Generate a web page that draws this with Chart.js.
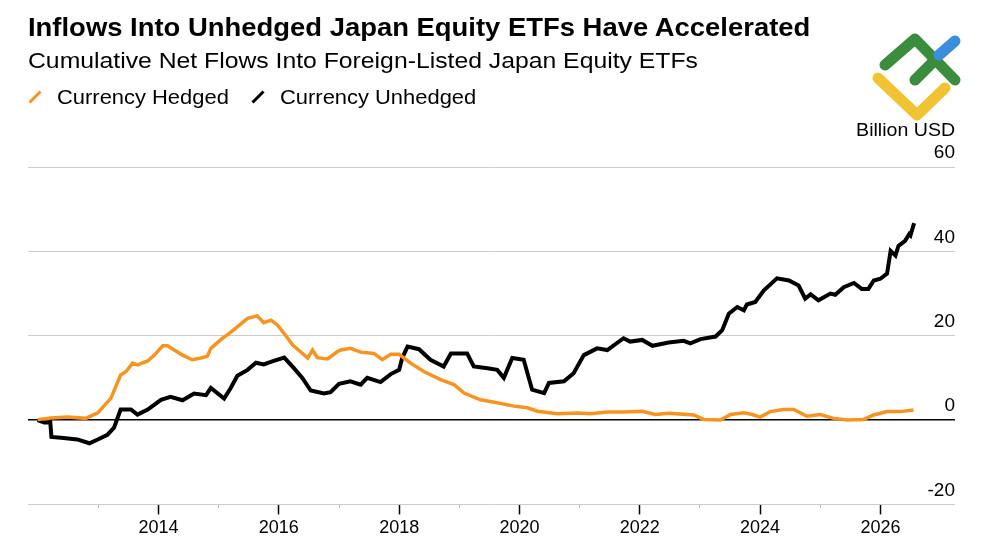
<!DOCTYPE html>
<html>
<head>
<meta charset="utf-8">
<script src="https://cdn.jsdelivr.net/npm/chart.js@4.4.1/dist/chart.umd.min.js"></script>
<style>
    body { margin: 0; background: #fff; font-family: "Liberation Sans", Arial, sans-serif; }
    #wrap { position: relative; width: 1000px; height: 545px; overflow: hidden; }
    #wrap canvas { position: absolute; left: 0; top: 0; }
    .txt { position: absolute; white-space: nowrap; line-height: 1; color: #000; transform-origin: left center; }
    #titulo { left: 28px; top: 15px; font-size: 25px; font-weight: bold; transform: scaleX(1.097); }
    #subtitulo { left: 28px; top: 50px; font-size: 22px; transform: scaleX(1.125); }
    #legenda { left: 28px; top: 86px; font-size: 21px; display: flex; align-items: center; }
    #legenda .item { display: flex; align-items: center; margin-right: 29px; }
    #legenda .item span { display: inline-block; transform: scaleX(1.044); transform-origin: left center; }
    #legenda svg { margin-right: 15px; margin-top: 1px; }
    #unidade { right: 45px; top: 120px; font-size: 19px; transform-origin: right center; transform: scaleX(1.03); }
    #logo { position: absolute; left: 0; top: 0; }
</style>
</head>
<body>
<div id="wrap">
    <canvas id="grafico"></canvas>
    <div class="txt" id="titulo">Inflows Into Unhedged Japan Equity ETFs Have Accelerated</div>
    <div class="txt" id="subtitulo">Cumulative Net Flows Into Foreign-Listed Japan Equity ETFs</div>
    <div class="txt" id="legenda"></div>
    <div class="txt" id="unidade">Billion USD</div>
    <svg id="logo" width="1000" height="140">
        <g fill="none" stroke-linecap="round" stroke-linejoin="round" stroke-width="11">
            <polyline points="878,78 917,115 945,88" stroke="#f1c232"/>
            <polyline points="885,65 915,39 955,80" stroke="#3a8d3c"/>
            <line x1="915" y1="80" x2="935" y2="60" stroke="#3a8d3c"/>
            <line x1="939" y1="55" x2="955" y2="41" stroke="#3b8edc"/>
        </g>
    </svg>
</div>
<script>
// ==========================
// DADOS
// ==========================
const anosHedged = [
    2011.99, 2012.21, 2012.49, 2012.79, 2012.99, 2013.21, 2013.37, 2013.46, 2013.57, 2013.65,
    2013.82, 2013.93, 2014.07, 2014.15, 2014.26, 2014.40, 2014.56, 2014.70, 2014.81, 2014.87,
    2015.03, 2015.17, 2015.31, 2015.48, 2015.64, 2015.75, 2015.87, 2015.98, 2016.11, 2016.23,
    2016.36, 2016.48, 2016.56, 2016.64, 2016.81, 2016.97, 2017.03, 2017.19, 2017.36, 2017.58,
    2017.72, 2017.86, 2018.00, 2018.19, 2018.41, 2018.69, 2018.91, 2019.08, 2019.35, 2019.63,
    2019.91, 2020.13, 2020.30, 2020.63, 2020.96, 2021.18, 2021.46, 2021.73, 2022.04, 2022.26,
    2022.48, 2022.90, 2023.06, 2023.34, 2023.51, 2023.73, 2023.87, 2024.00, 2024.17, 2024.39,
    2024.56, 2024.78, 2025.00, 2025.22, 2025.45, 2025.72, 2025.89, 2026.11, 2026.33, 2026.55
];
const valoresHedged = [
    0.1, 0.5, 0.7, 0.4, 1.7, 5.2, 10.7, 11.5, 13.5, 13.1,
    14.0, 15.4, 17.6, 17.6, 16.6, 15.4, 14.3, 14.7, 15.1, 17.0,
    19.0, 20.5, 22.1, 24.1, 24.7, 23.1, 23.7, 22.5, 20.1, 17.8,
    16.2, 14.7, 16.6, 14.8, 14.5, 16.2, 16.6, 17.0, 16.1, 15.8,
    14.3, 15.6, 15.6, 13.5, 11.5, 9.6, 8.4, 6.4, 4.8, 4.1,
    3.3, 2.9, 2.1, 1.5, 1.7, 1.5, 1.9, 1.9, 2.1, 1.3,
    1.6, 1.2, 0.15, 0.0, 1.3, 1.7, 1.3, 0.7, 2.0, 2.5,
    2.5, 0.9, 1.3, 0.4, 0.0, 0.15, 1.2, 2.0, 2.0, 2.4
];

const anosUnhedged = [
    2011.99, 2012.10, 2012.20, 2012.22, 2012.38, 2012.65, 2012.85, 2012.99, 2013.15, 2013.26,
    2013.37, 2013.54, 2013.65, 2013.82, 2014.04, 2014.20, 2014.40, 2014.59, 2014.79, 2014.87,
    2015.09, 2015.20, 2015.31, 2015.48, 2015.62, 2015.75, 2015.89, 2016.09, 2016.25, 2016.39,
    2016.53, 2016.75, 2016.86, 2017.00, 2017.19, 2017.36, 2017.47, 2017.69, 2017.86, 2018.00,
    2018.05, 2018.14, 2018.33, 2018.52, 2018.74, 2018.86, 2019.13, 2019.24, 2019.47, 2019.63,
    2019.74, 2019.88, 2020.07, 2020.21, 2020.41, 2020.49, 2020.74, 2020.90, 2021.07, 2021.29,
    2021.46, 2021.73, 2021.84, 2022.04, 2022.21, 2022.48, 2022.73, 2022.84, 2023.01, 2023.26,
    2023.37, 2023.48, 2023.62, 2023.73, 2023.78, 2023.92, 2024.06, 2024.28, 2024.48, 2024.64,
    2024.75, 2024.84, 2024.97, 2025.17, 2025.25, 2025.39, 2025.56, 2025.69, 2025.80, 2025.89,
    2026.00, 2026.11, 2026.17, 2026.25, 2026.30, 2026.41, 2026.48, 2026.50, 2026.56
];
const valoresUnhedged = [
    0.0, -0.6, -0.5, -4.0, -4.2, -4.6, -5.5, -4.6, -3.5, -1.8,
    2.5, 2.5, 1.3, 2.5, 4.8, 5.5, 4.7, 6.3, 5.9, 7.6,
    5.1, 7.6, 10.5, 11.9, 13.6, 13.2, 13.9, 14.8, 12.3, 10.0,
    7.0, 6.3, 6.6, 8.6, 9.2, 8.4, 10.0, 9.0, 10.9, 11.9,
    14.7, 17.4, 16.8, 14.3, 12.7, 15.8, 15.8, 12.7, 12.3, 11.9,
    10.0, 14.7, 14.3, 7.2, 6.4, 8.8, 9.2, 11.1, 15.4, 17.0,
    16.6, 19.4, 18.6, 19.0, 17.6, 18.4, 18.8, 18.2, 19.2, 19.8,
    21.3, 25.2, 26.8, 26.0, 27.4, 28.0, 30.7, 33.6, 33.1, 31.9,
    28.8, 29.8, 28.4, 30.0, 29.7, 31.5, 32.5, 31.1, 31.1, 33.1,
    33.5, 34.7, 40.1, 39.0, 41.3, 42.5, 44.1, 43.8, 46.7
];

const ticksY = [-20, 0, 20, 40, 60];
const primeiroAno = 2013;
const ultimoAno = 2026;

const corHedged = "#f7931e";
const corUnhedged = "#000000";

function pontos(anos, valores) {
    return anos.map((a, i) => ({ x: a, y: valores[i] }));
}

Chart.defaults.font.family = '"Liberation Sans", Arial, sans-serif';

const datasets = [
    {
        label: "Currency Hedged",
        data: pontos(anosHedged, valoresHedged),
        borderColor: corHedged,
        borderWidth: 3.5,
        pointRadius: 0,
        tension: 0
    },
    {
        label: "Currency Unhedged",
        data: pontos(anosUnhedged, valoresUnhedged),
        borderColor: corUnhedged,
        borderWidth: 4,
        pointRadius: 0,
        tension: 0
    }
];

// legenda em HTML a partir dos datasets
const legenda = document.getElementById("legenda");
datasets.forEach(ds => {
    const item = document.createElement("span");
    item.className = "item";
    item.innerHTML =
        `<svg width="14" height="14"><line x1="1.5" y1="12.5" x2="12.5" y2="1.5" stroke="${ds.borderColor}" stroke-width="3"/></svg>` +
        `<span>${ds.label}</span>`;
    legenda.appendChild(item);
});

const ehPar = c => c.tick && c.tick.value % 2 === 0;

const canvas = document.getElementById("grafico");
canvas.width = 1000;
canvas.height = 545;
const ctx = canvas.getContext("2d");

new Chart(ctx, {
    type: "line",
    data: { datasets },
    options: {
        responsive: false,
        animation: false,
        layout: { padding: { left: 28, right: 45, top: 167, bottom: 3 } },
        plugins: {
            legend: { display: false },
            tooltip: { enabled: false }
        },
        scales: {
            x: {
                type: "linear",
                min: 2011.83,
                max: 2027.24,
                afterBuildTicks: scale => {
                    scale.ticks = scale.ticks.filter(t =>
                        Number.isInteger(t.value) && t.value >= primeiroAno && t.value <= ultimoAno);
                },
                ticks: {
                    stepSize: 1,
                    autoSkip: false,
                    maxRotation: 0,
                    padding: 3,
                    color: "#000",
                    font: { size: 18 },
                    callback: v => (v % 2 === 0 ? String(v) : "")
                },
                grid: {
                    drawOnChartArea: false,
                    drawTicks: true,
                    tickLength: 10,
                    tickColor: c => (ehPar(c) ? "#000" : "#b5b5b5"),
                    tickWidth: c => (ehPar(c) ? 1.5 : 1),
                    tickBorderDash: c => (ehPar(c) ? [] : [4, 30])
                },
                border: { display: false }
            },
            y: {
                position: "right",
                min: -20,
                max: 60,
                afterBuildTicks: scale => {
                    scale.ticks = ticksY.map(v => ({ value: v }));
                },
                ticks: {
                    mirror: true,
                    padding: 0,
                    labelOffset: -14,
                    color: "#000",
                    font: { size: 19 }
                },
                grid: {
                    drawTicks: false,
                    color: c => (c.tick && c.tick.value === 0 ? "#000" : "#cccccc"),
                    lineWidth: c => (c.tick && c.tick.value === 0 ? 1.5 : 1)
                },
                border: { display: false }
            }
        }
    }
});
</script>
</body>
</html>
